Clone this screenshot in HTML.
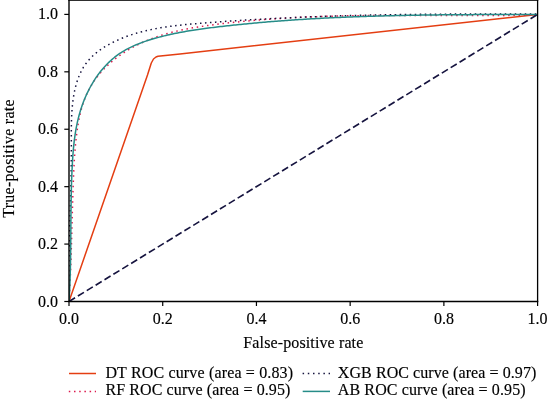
<!DOCTYPE html>
<html><head><meta charset="utf-8"><style>
html,body{margin:0;padding:0;background:#fff;}
body{width:547px;height:399px;overflow:hidden;}
svg{display:block;will-change:transform;font-family:"Liberation Serif", serif;font-size:16px;}
text{fill:#000;stroke:#000;stroke-width:0.15px;}
.xt text{text-anchor:middle;}
.yt text{text-anchor:end;}
</style></head><body>
<svg width="547" height="399" viewBox="0 0 547 399">
<rect width="547" height="399" fill="#fff"/>
<defs><clipPath id="c"><rect x="69.0" y="0" width="468.60" height="301.50"/></clipPath></defs>
<g clip-path="url(#c)" fill="none" stroke-linejoin="round">
<path d="M69.00,301.50 L147.50,75.00 L151.30,63.00 L153.50,59.00 L156.00,57.00 L158.00,56.30 L180.00,53.90 L537.60,14.50" stroke="#e43e12" stroke-width="1.5"/>
<path d="M69.00,301.50 L69.11,299.78 L69.21,298.07 L69.31,296.35 L69.41,294.63 L69.51,292.92 L69.60,291.20 L69.70,289.48 L69.79,287.77 L69.87,286.05 L69.96,284.34 L70.04,282.62 L70.12,280.90 L70.20,279.19 L70.28,277.47 L70.35,275.76 L70.42,274.04 L70.50,272.33 L70.56,270.61 L70.63,268.90 L70.70,267.18 L70.76,265.47 L70.83,263.75 L70.89,262.04 L70.95,260.33 L71.01,258.61 L71.07,256.90 L71.12,255.18 L71.18,253.47 L71.23,251.75 L71.29,250.04 L71.34,248.32 L71.39,246.61 L71.44,244.90 L71.49,243.18 L71.54,241.47 L71.59,239.75 L71.64,238.04 L71.69,236.33 L71.73,234.61 L71.78,232.90 L71.83,231.18 L71.87,229.47 L71.92,227.75 L71.97,226.04 L72.01,224.32 L72.06,222.61 L72.10,220.90 L72.15,219.18 L72.20,217.47 L72.24,215.75 L72.29,214.04 L72.34,212.32 L72.39,210.61 L72.44,208.89 L72.49,207.18 L72.53,205.46 L72.59,203.75 L72.64,202.03 L72.69,200.32 L72.74,198.60 L72.80,196.88 L72.85,195.17 L72.91,193.45 L72.96,191.74 L73.02,190.02 L73.08,188.30 L73.14,186.59 L73.20,184.87 L73.27,183.15 L73.33,181.44 L73.40,179.72 L73.47,178.00 L73.54,176.29 L73.61,174.57 L73.68,172.85 L73.76,171.13 L73.84,169.41 L73.92,167.70 L74.01,165.98 L74.10,164.26 L74.19,162.54 L74.29,160.83 L74.39,159.11 L74.50,157.40 L74.61,155.68 L74.73,153.97 L74.86,152.25 L74.99,150.54 L75.13,148.83 L75.28,147.11 L75.43,145.40 L75.59,143.69 L75.76,141.98 L75.94,140.27 L76.12,138.57 L76.32,136.86 L76.53,135.16 L76.74,133.45 L76.97,131.75 L77.20,130.05 L77.45,128.35 L77.71,126.65 L77.98,124.96 L78.26,123.27 L78.56,121.58 L78.87,119.90 L79.20,118.22 L79.55,116.54 L79.92,114.87 L80.30,113.21 L80.71,111.55 L81.14,109.91 L81.59,108.26 L82.06,106.63 L82.55,105.01 L83.08,103.39 L83.62,101.79 L84.20,100.19 L84.80,98.61 L85.43,97.04 L86.09,95.48 L86.78,93.93 L87.50,92.39 L88.25,90.87 L89.04,89.36 L89.85,87.87 L90.70,86.39 L91.57,84.93 L92.47,83.48 L93.40,82.05 L94.36,80.64 L95.35,79.24 L96.36,77.86 L97.40,76.50 L98.47,75.15 L99.56,73.83 L100.68,72.52 L101.82,71.24 L102.99,69.97 L104.18,68.72 L105.39,67.49 L106.62,66.28 L107.88,65.09 L109.15,63.92 L110.44,62.77 L111.75,61.64 L113.08,60.53 L114.43,59.43 L115.79,58.36 L117.16,57.31 L118.56,56.28 L119.96,55.27 L121.38,54.27 L122.81,53.30 L124.25,52.35 L125.71,51.42 L127.17,50.51 L128.64,49.63 L130.13,48.76 L131.62,47.91 L133.11,47.08 L134.62,46.28 L136.14,45.49 L137.66,44.72 L139.19,43.97 L140.73,43.24 L142.27,42.53 L143.83,41.84 L145.39,41.16 L146.95,40.50 L148.53,39.86 L150.11,39.24 L151.69,38.63 L153.28,38.04 L154.88,37.46 L156.49,36.90 L158.10,36.35 L159.71,35.82 L161.33,35.31 L162.96,34.80 L164.59,34.32 L166.23,33.84 L167.87,33.38 L169.52,32.93 L171.17,32.49 L172.82,32.07 L174.48,31.66 L176.15,31.26 L177.81,30.87 L179.49,30.49 L181.16,30.12 L182.84,29.77 L184.52,29.42 L186.20,29.08 L187.89,28.75 L189.58,28.43 L191.27,28.12 L192.97,27.82 L194.66,27.53 L196.36,27.24 L198.07,26.96 L199.77,26.69 L201.47,26.43 L203.18,26.17 L204.89,25.92 L206.60,25.67 L208.31,25.43 L210.02,25.19 L211.73,24.96 L213.44,24.74 L215.15,24.52 L216.86,24.30 L218.58,24.08 L220.29,23.87 L222.00,23.67 L223.71,23.46 L225.43,23.26 L227.14,23.06 L228.85,22.87 L230.56,22.68 L232.28,22.49 L233.99,22.31 L235.70,22.13 L237.41,21.95 L239.12,21.77 L240.84,21.60 L242.55,21.43 L244.26,21.27 L245.97,21.10 L247.69,20.94 L249.40,20.79 L251.11,20.63 L252.82,20.48 L254.53,20.33 L256.25,20.19 L257.96,20.05 L259.67,19.91 L261.38,19.77 L263.10,19.64 L264.81,19.50 L266.52,19.38 L268.23,19.25 L269.94,19.13 L271.66,19.01 L273.37,18.89 L275.08,18.77 L276.79,18.66 L278.50,18.55 L280.22,18.44 L281.93,18.33 L283.64,18.23 L285.35,18.13 L287.07,18.03 L288.78,17.94 L290.49,17.84 L292.20,17.75 L293.91,17.66 L295.63,17.57 L297.34,17.49 L299.05,17.41 L300.76,17.33 L302.48,17.25 L304.19,17.17 L305.90,17.10 L307.61,17.03 L309.32,16.96 L311.04,16.89 L312.75,16.82 L314.46,16.76 L316.17,16.70 L317.89,16.63 L319.60,16.58 L321.31,16.52 L323.02,16.46 L324.74,16.41 L326.45,16.36 L328.16,16.31 L329.87,16.26 L331.59,16.22 L333.30,16.17 L335.01,16.13 L336.73,16.09 L338.44,16.05 L340.15,16.01 L341.86,15.97 L343.58,15.94 L345.29,15.90 L347.00,15.87 L348.72,15.84 L350.43,15.81 L352.14,15.78 L353.86,15.76 L355.57,15.73 L357.28,15.71 L359.00,15.68 L360.71,15.66 L362.42,15.64 L364.14,15.62 L365.85,15.60 L367.56,15.59 L369.28,15.57 L370.99,15.55 L372.70,15.54 L374.42,15.53 L376.13,15.51 L377.85,15.50 L379.56,15.49 L381.27,15.48 L382.99,15.48 L384.70,15.47 L386.42,15.46 L388.13,15.45 L389.84,15.45 L391.56,15.44 L393.27,15.44 L394.99,15.44 L396.70,15.44 L398.42,15.43 L400.13,15.43 L401.85,15.43 L403.56,15.43 L405.28,15.43 L406.99,15.43 L408.71,15.43 L410.42,15.44 L412.14,15.44 L413.85,15.44 L415.57,15.44 L417.28,15.45 L419.00,15.45 L420.71,15.45 L422.43,15.46 L424.14,15.46 L425.86,15.47 L427.58,15.47 L429.29,15.48 L431.01,15.48 L432.72,15.49 L434.44,15.49 L436.16,15.50 L437.87,15.50 L439.59,15.51 L441.31,15.51 L443.02,15.52 L444.74,15.52 L446.46,15.53 L448.17,15.53 L449.89,15.54 L451.61,15.54 L453.32,15.54 L455.04,15.55 L456.76,15.55 L458.48,15.55 L460.19,15.56 L461.91,15.56 L463.63,15.56 L465.35,15.56 L467.07,15.57 L468.78,15.57 L470.50,15.57 L472.22,15.57 L473.94,15.56 L475.66,15.56 L477.38,15.56 L479.09,15.56 L480.81,15.56 L482.53,15.55 L484.25,15.55 L485.97,15.54 L487.69,15.54 L489.41,15.53 L491.13,15.52 L492.85,15.51 L494.57,15.50 L496.29,15.49 L498.01,15.48 L499.73,15.47 L501.45,15.45 L503.17,15.44 L504.89,15.42 L506.61,15.41 L508.33,15.39 L510.05,15.37 L511.77,15.35 L513.49,15.33 L515.21,15.31 L516.93,15.29 L518.66,15.26 L520.38,15.24 L522.10,15.21 L523.82,15.18 L525.54,15.15 L527.26,15.12 L528.99,15.09 L530.71,15.05 L532.43,15.02 L534.15,14.98 L535.88,14.94 L537.60,14.90" stroke="#dc1a4e" stroke-width="1.5" stroke-dasharray="1.5 3.7"/>
<path d="M69.00,301.50 L68.97,299.74 L68.94,297.98 L68.92,296.21 L68.89,294.45 L68.88,292.69 L68.86,290.92 L68.85,289.16 L68.84,287.40 L68.83,285.64 L68.83,283.87 L68.82,282.11 L68.83,280.35 L68.83,278.59 L68.84,276.82 L68.84,275.06 L68.85,273.30 L68.87,271.53 L68.88,269.77 L68.90,268.01 L68.92,266.25 L68.94,264.48 L68.96,262.72 L68.99,260.96 L69.02,259.20 L69.05,257.43 L69.08,255.67 L69.11,253.91 L69.14,252.15 L69.18,250.38 L69.21,248.62 L69.25,246.86 L69.29,245.10 L69.33,243.33 L69.37,241.57 L69.41,239.81 L69.46,238.05 L69.50,236.28 L69.55,234.52 L69.59,232.76 L69.64,231.00 L69.69,229.23 L69.73,227.47 L69.78,225.71 L69.83,223.95 L69.88,222.19 L69.93,220.42 L69.98,218.66 L70.03,216.90 L70.08,215.14 L70.13,213.38 L70.18,211.62 L70.23,209.85 L70.28,208.09 L70.33,206.33 L70.38,204.57 L70.42,202.81 L70.47,201.05 L70.52,199.29 L70.57,197.53 L70.61,195.77 L70.66,194.00 L70.70,192.24 L70.75,190.48 L70.79,188.72 L70.83,186.96 L70.87,185.20 L70.91,183.44 L70.95,181.68 L70.99,179.92 L71.02,178.16 L71.06,176.40 L71.09,174.64 L71.12,172.88 L71.15,171.12 L71.18,169.36 L71.21,167.60 L71.23,165.84 L71.25,164.09 L71.27,162.33 L71.29,160.57 L71.31,158.81 L71.32,157.05 L71.34,155.29 L71.35,153.53 L71.35,151.78 L71.36,150.02 L71.36,148.26 L71.36,146.50 L71.36,144.74 L71.35,142.99 L71.35,141.23 L71.34,139.47 L71.33,137.71 L71.33,135.96 L71.32,134.20 L71.32,132.44 L71.33,130.68 L71.33,128.92 L71.35,127.16 L71.37,125.40 L71.40,123.64 L71.44,121.88 L71.49,120.12 L71.55,118.35 L71.62,116.59 L71.71,114.82 L71.81,113.05 L71.92,111.29 L72.05,109.52 L72.19,107.74 L72.36,105.97 L72.54,104.20 L72.74,102.42 L72.96,100.64 L73.21,98.87 L73.47,97.09 L73.76,95.32 L74.08,93.55 L74.42,91.79 L74.79,90.04 L75.19,88.30 L75.62,86.57 L76.08,84.85 L76.57,83.14 L77.09,81.45 L77.65,79.78 L78.24,78.13 L78.87,76.50 L79.54,74.88 L80.25,73.30 L80.99,71.73 L81.78,70.20 L82.61,68.69 L83.48,67.21 L84.40,65.76 L85.36,64.35 L86.37,62.97 L87.43,61.62 L88.53,60.31 L89.67,59.02 L90.85,57.78 L92.08,56.56 L93.33,55.38 L94.63,54.22 L95.96,53.10 L97.32,52.01 L98.71,50.95 L100.12,49.91 L101.57,48.91 L103.04,47.93 L104.53,46.98 L106.05,46.06 L107.58,45.17 L109.13,44.30 L110.70,43.45 L112.28,42.64 L113.88,41.84 L115.48,41.07 L117.10,40.33 L118.72,39.60 L120.35,38.90 L121.99,38.23 L123.63,37.57 L125.27,36.93 L126.92,36.32 L128.58,35.73 L130.24,35.15 L131.91,34.60 L133.58,34.06 L135.26,33.54 L136.94,33.05 L138.63,32.56 L140.32,32.10 L142.02,31.65 L143.71,31.22 L145.42,30.81 L147.13,30.41 L148.84,30.02 L150.55,29.65 L152.27,29.30 L153.99,28.96 L155.72,28.63 L157.44,28.31 L159.17,28.01 L160.91,27.71 L162.65,27.43 L164.38,27.16 L166.13,26.90 L167.87,26.65 L169.62,26.41 L171.36,26.18 L173.12,25.96 L174.87,25.75 L176.62,25.54 L178.38,25.34 L180.13,25.15 L181.89,24.97 L183.65,24.79 L185.41,24.62 L187.17,24.45 L188.93,24.28 L190.70,24.12 L192.46,23.97 L194.22,23.82 L195.99,23.67 L197.75,23.52 L199.51,23.37 L201.28,23.23 L203.04,23.09 L204.80,22.95 L206.57,22.81 L208.33,22.67 L210.09,22.53 L211.86,22.40 L213.62,22.26 L215.38,22.13 L217.14,22.00 L218.91,21.87 L220.67,21.74 L222.43,21.62 L224.19,21.49 L225.95,21.37 L227.71,21.25 L229.48,21.12 L231.24,21.00 L233.00,20.89 L234.76,20.77 L236.52,20.65 L238.28,20.54 L240.04,20.42 L241.80,20.31 L243.56,20.20 L245.32,20.09 L247.08,19.98 L248.84,19.88 L250.60,19.77 L252.36,19.66 L254.12,19.56 L255.88,19.46 L257.64,19.36 L259.40,19.26 L261.16,19.16 L262.92,19.06 L264.68,18.97 L266.44,18.87 L268.20,18.78 L269.96,18.69 L271.72,18.59 L273.47,18.50 L275.23,18.41 L276.99,18.33 L278.75,18.24 L280.51,18.15 L282.27,18.07 L284.03,17.99 L285.78,17.90 L287.54,17.82 L289.30,17.74 L291.06,17.66 L292.82,17.59 L294.57,17.51 L296.33,17.43 L298.09,17.36 L299.85,17.28 L301.61,17.21 L303.36,17.14 L305.12,17.07 L306.88,17.00 L308.64,16.93 L310.39,16.86 L312.15,16.80 L313.91,16.73 L315.67,16.67 L317.43,16.60 L319.18,16.54 L320.94,16.48 L322.70,16.42 L324.46,16.36 L326.21,16.30 L327.97,16.24 L329.73,16.19 L331.48,16.13 L333.24,16.08 L335.00,16.02 L336.76,15.97 L338.51,15.92 L340.27,15.86 L342.03,15.81 L343.79,15.76 L345.54,15.72 L347.30,15.67 L349.06,15.62 L350.82,15.57 L352.57,15.53 L354.33,15.48 L356.09,15.44 L357.85,15.40 L359.60,15.35 L361.36,15.31 L363.12,15.27 L364.88,15.23 L366.63,15.19 L368.39,15.16 L370.15,15.12 L371.91,15.08 L373.67,15.05 L375.42,15.01 L377.18,14.98 L378.94,14.94 L380.70,14.91 L382.45,14.88 L384.21,14.85 L385.97,14.81 L387.73,14.78 L389.49,14.76 L391.25,14.73 L393.00,14.70 L394.76,14.67 L396.52,14.64 L398.28,14.62 L400.04,14.59 L401.80,14.57 L403.56,14.54 L405.31,14.52 L407.07,14.50 L408.83,14.47 L410.59,14.45 L412.35,14.43 L414.11,14.41 L415.87,14.39 L417.63,14.37 L419.39,14.35 L421.15,14.33 L422.91,14.32 L424.67,14.30 L426.43,14.28 L428.19,14.27 L429.95,14.25 L431.71,14.23 L433.47,14.22 L435.23,14.21 L436.99,14.19 L438.75,14.18 L440.51,14.17 L442.27,14.15 L444.03,14.14 L445.79,14.13 L447.56,14.12 L449.32,14.11 L451.08,14.10 L452.84,14.09 L454.60,14.08 L456.36,14.07 L458.13,14.06 L459.89,14.06 L461.65,14.05 L463.41,14.04 L465.18,14.04 L466.94,14.03 L468.70,14.02 L470.47,14.02 L472.23,14.01 L473.99,14.01 L475.76,14.00 L477.52,14.00 L479.28,13.99 L481.05,13.99 L482.81,13.99 L484.58,13.99 L486.34,13.98 L488.11,13.98 L489.87,13.98 L491.64,13.98 L493.40,13.97 L495.17,13.97 L496.93,13.97 L498.70,13.97 L500.47,13.97 L502.23,13.97 L504.00,13.97 L505.76,13.97 L507.53,13.97 L509.30,13.97 L511.07,13.97 L512.83,13.97 L514.60,13.97 L516.37,13.97 L518.14,13.98 L519.91,13.98 L521.67,13.98 L523.44,13.98 L525.21,13.98 L526.98,13.99 L528.75,13.99 L530.52,13.99 L532.29,13.99 L534.06,13.99 L535.83,14.00 L537.60,14.00" stroke="#16143f" stroke-width="1.5" stroke-dasharray="1.5 3.5"/>
<path d="M69.00,301.50 L69.11,299.77 L69.21,298.04 L69.31,296.31 L69.41,294.58 L69.50,292.86 L69.58,291.13 L69.66,289.41 L69.74,287.68 L69.82,285.96 L69.89,284.24 L69.95,282.51 L70.02,280.79 L70.08,279.07 L70.13,277.35 L70.19,275.63 L70.24,273.92 L70.28,272.20 L70.33,270.48 L70.37,268.77 L70.41,267.05 L70.45,265.33 L70.48,263.62 L70.51,261.90 L70.54,260.19 L70.57,258.48 L70.60,256.76 L70.62,255.05 L70.64,253.34 L70.66,251.63 L70.68,249.92 L70.70,248.21 L70.72,246.49 L70.74,244.78 L70.75,243.07 L70.76,241.36 L70.78,239.65 L70.79,237.94 L70.80,236.24 L70.81,234.53 L70.83,232.82 L70.84,231.11 L70.85,229.40 L70.86,227.69 L70.87,225.98 L70.88,224.27 L70.89,222.56 L70.91,220.86 L70.92,219.15 L70.93,217.44 L70.95,215.73 L70.96,214.02 L70.98,212.31 L71.00,210.60 L71.01,208.89 L71.04,207.18 L71.06,205.47 L71.08,203.76 L71.11,202.05 L71.13,200.34 L71.16,198.63 L71.19,196.92 L71.23,195.21 L71.26,193.49 L71.30,191.78 L71.34,190.07 L71.38,188.35 L71.43,186.64 L71.48,184.93 L71.53,183.21 L71.58,181.50 L71.64,179.78 L71.70,178.06 L71.77,176.35 L71.84,174.63 L71.91,172.91 L71.98,171.19 L72.06,169.47 L72.15,167.75 L72.23,166.03 L72.33,164.31 L72.42,162.58 L72.52,160.86 L72.63,159.14 L72.74,157.41 L72.86,155.69 L72.99,153.97 L73.13,152.24 L73.27,150.52 L73.42,148.80 L73.58,147.08 L73.76,145.36 L73.94,143.64 L74.13,141.92 L74.34,140.21 L74.56,138.49 L74.79,136.78 L75.03,135.07 L75.29,133.36 L75.57,131.66 L75.85,129.95 L76.16,128.25 L76.48,126.56 L76.82,124.86 L77.17,123.17 L77.54,121.48 L77.94,119.80 L78.35,118.12 L78.78,116.45 L79.23,114.77 L79.70,113.11 L80.19,111.45 L80.70,109.79 L81.23,108.14 L81.79,106.50 L82.36,104.86 L82.96,103.23 L83.57,101.61 L84.21,100.00 L84.87,98.40 L85.54,96.81 L86.24,95.23 L86.96,93.66 L87.70,92.10 L88.46,90.56 L89.25,89.03 L90.05,87.51 L90.88,86.00 L91.72,84.51 L92.59,83.03 L93.47,81.57 L94.38,80.13 L95.31,78.70 L96.26,77.29 L97.24,75.89 L98.23,74.52 L99.24,73.16 L100.28,71.82 L101.34,70.50 L102.42,69.21 L103.51,67.93 L104.64,66.67 L105.78,65.44 L106.94,64.23 L108.13,63.04 L109.34,61.88 L110.56,60.74 L111.81,59.62 L113.08,58.53 L114.38,57.46 L115.69,56.43 L117.03,55.41 L118.39,54.43 L119.77,53.47 L121.17,52.55 L122.59,51.65 L124.04,50.78 L125.50,49.93 L126.98,49.11 L128.48,48.32 L130.00,47.56 L131.53,46.81 L133.08,46.10 L134.65,45.40 L136.23,44.73 L137.82,44.07 L139.42,43.44 L141.03,42.83 L142.65,42.23 L144.28,41.66 L145.92,41.10 L147.57,40.55 L149.22,40.03 L150.88,39.51 L152.54,39.02 L154.20,38.53 L155.87,38.06 L157.54,37.60 L159.22,37.15 L160.89,36.71 L162.57,36.28 L164.24,35.87 L165.92,35.46 L167.61,35.07 L169.29,34.69 L170.97,34.31 L172.66,33.95 L174.35,33.59 L176.04,33.25 L177.73,32.91 L179.42,32.58 L181.12,32.26 L182.81,31.95 L184.51,31.64 L186.21,31.35 L187.91,31.06 L189.61,30.78 L191.31,30.50 L193.01,30.23 L194.72,29.97 L196.42,29.71 L198.13,29.46 L199.83,29.22 L201.54,28.98 L203.24,28.74 L204.95,28.51 L206.66,28.29 L208.37,28.07 L210.08,27.85 L211.79,27.63 L213.50,27.42 L215.21,27.22 L216.92,27.01 L218.63,26.81 L220.34,26.61 L222.05,26.41 L223.76,26.22 L225.47,26.03 L227.18,25.84 L228.89,25.65 L230.60,25.46 L232.31,25.28 L234.02,25.10 L235.73,24.92 L237.44,24.74 L239.15,24.56 L240.86,24.39 L242.57,24.22 L244.28,24.05 L245.99,23.88 L247.71,23.71 L249.42,23.55 L251.13,23.39 L252.84,23.23 L254.55,23.07 L256.26,22.91 L257.97,22.76 L259.68,22.61 L261.39,22.46 L263.10,22.31 L264.81,22.16 L266.52,22.02 L268.24,21.87 L269.95,21.73 L271.66,21.59 L273.37,21.46 L275.08,21.32 L276.79,21.19 L278.50,21.05 L280.21,20.92 L281.93,20.80 L283.64,20.67 L285.35,20.54 L287.06,20.42 L288.77,20.30 L290.48,20.18 L292.20,20.06 L293.91,19.94 L295.62,19.83 L297.33,19.72 L299.04,19.61 L300.75,19.50 L302.47,19.39 L304.18,19.28 L305.89,19.17 L307.60,19.07 L309.31,18.97 L311.03,18.87 L312.74,18.77 L314.45,18.67 L316.16,18.58 L317.88,18.48 L319.59,18.39 L321.30,18.30 L323.01,18.21 L324.73,18.12 L326.44,18.03 L328.15,17.95 L329.86,17.86 L331.58,17.78 L333.29,17.70 L335.00,17.62 L336.71,17.54 L338.43,17.46 L340.14,17.39 L341.85,17.31 L343.57,17.24 L345.28,17.17 L346.99,17.10 L348.71,17.03 L350.42,16.96 L352.13,16.89 L353.85,16.83 L355.56,16.76 L357.27,16.70 L358.99,16.64 L360.70,16.58 L362.41,16.52 L364.13,16.46 L365.84,16.40 L367.56,16.35 L369.27,16.29 L370.98,16.24 L372.70,16.18 L374.41,16.13 L376.13,16.08 L377.84,16.03 L379.55,15.98 L381.27,15.94 L382.98,15.89 L384.70,15.85 L386.41,15.80 L388.13,15.76 L389.84,15.72 L391.56,15.68 L393.27,15.63 L394.99,15.60 L396.70,15.56 L398.42,15.52 L400.13,15.48 L401.85,15.45 L403.56,15.41 L405.28,15.38 L406.99,15.35 L408.71,15.32 L410.42,15.28 L412.14,15.25 L413.85,15.22 L415.57,15.20 L417.29,15.17 L419.00,15.14 L420.72,15.11 L422.43,15.09 L424.15,15.06 L425.87,15.04 L427.58,15.02 L429.30,14.99 L431.02,14.97 L432.73,14.95 L434.45,14.93 L436.17,14.91 L437.88,14.89 L439.60,14.87 L441.32,14.86 L443.03,14.84 L444.75,14.82 L446.47,14.81 L448.18,14.79 L449.90,14.78 L451.62,14.76 L453.34,14.75 L455.05,14.73 L456.77,14.72 L458.49,14.71 L460.21,14.70 L461.92,14.69 L463.64,14.68 L465.36,14.67 L467.08,14.66 L468.80,14.65 L470.52,14.64 L472.23,14.63 L473.95,14.62 L475.67,14.61 L477.39,14.61 L479.11,14.60 L480.83,14.59 L482.55,14.59 L484.26,14.58 L485.98,14.58 L487.70,14.57 L489.42,14.57 L491.14,14.56 L492.86,14.56 L494.58,14.55 L496.30,14.55 L498.02,14.55 L499.74,14.54 L501.46,14.54 L503.18,14.54 L504.90,14.53 L506.62,14.53 L508.34,14.53 L510.06,14.53 L511.78,14.52 L513.50,14.52 L515.22,14.52 L516.94,14.52 L518.66,14.52 L520.39,14.52 L522.11,14.51 L523.83,14.51 L525.55,14.51 L527.27,14.51 L528.99,14.51 L530.71,14.51 L532.43,14.51 L534.16,14.50 L535.88,14.50 L537.60,14.50" stroke="#268c88" stroke-width="1.5"/>
<path d="M69.0,301.5 L537.6,14.4" stroke="#16143f" stroke-width="1.65" stroke-dasharray="7.1 3.31"/>
</g>
<g fill="none" stroke="#000">
<line x1="69.0" y1="0" x2="69.0" y2="302.1" stroke-width="1.4"/>
<line x1="537.6" y1="0" x2="537.6" y2="302.1" stroke-width="1.3"/>
<line x1="68.3" y1="301.5" x2="538.2" y2="301.5" stroke-width="1.3"/>

</g>
<rect x="68.3" y="0" width="469.95" height="0.82" fill="#000"/>
<g class="xt"><line x1="69.00" y1="301.5" x2="69.00" y2="306" stroke="#000" stroke-width="1.2"/><text x="69.00" y="324">0.0</text><line x1="162.72" y1="301.5" x2="162.72" y2="306" stroke="#000" stroke-width="1.2"/><text x="162.72" y="324">0.2</text><line x1="256.44" y1="301.5" x2="256.44" y2="306" stroke="#000" stroke-width="1.2"/><text x="256.44" y="324">0.4</text><line x1="350.16" y1="301.5" x2="350.16" y2="306" stroke="#000" stroke-width="1.2"/><text x="350.16" y="324">0.6</text><line x1="443.88" y1="301.5" x2="443.88" y2="306" stroke="#000" stroke-width="1.2"/><text x="443.88" y="324">0.8</text><line x1="537.60" y1="301.5" x2="537.60" y2="306" stroke="#000" stroke-width="1.2"/><text x="537.60" y="324">1.0</text></g>
<g class="yt"><line x1="64.3" y1="301.50" x2="69" y2="301.50" stroke="#000" stroke-width="1.2"/><text x="58" y="306.50">0.0</text><line x1="64.3" y1="244.08" x2="69" y2="244.08" stroke="#000" stroke-width="1.2"/><text x="58" y="249.08">0.2</text><line x1="64.3" y1="186.66" x2="69" y2="186.66" stroke="#000" stroke-width="1.2"/><text x="58" y="191.66">0.4</text><line x1="64.3" y1="129.24" x2="69" y2="129.24" stroke="#000" stroke-width="1.2"/><text x="58" y="134.24">0.6</text><line x1="64.3" y1="71.82" x2="69" y2="71.82" stroke="#000" stroke-width="1.2"/><text x="58" y="76.82">0.8</text><line x1="64.3" y1="14.40" x2="69" y2="14.40" stroke="#000" stroke-width="1.2"/><text x="58" y="19.40">1.0</text></g>
<text x="243.3" y="348.3" textLength="120" lengthAdjust="spacing">False-positive rate</text>
<text transform="translate(14.3,217.8) rotate(-90)" textLength="118.5" lengthAdjust="spacing">True-positive rate</text>
<g fill="none">
<line x1="69" y1="373.5" x2="96" y2="373.5" stroke="#e43e12" stroke-width="1.5"/>
<line x1="68.8" y1="391.4" x2="96" y2="391.4" stroke="#dc1a4e" stroke-width="1.5" stroke-dasharray="1.5 3.7"/>
<line x1="302.6" y1="373.6" x2="330" y2="373.6" stroke="#16143f" stroke-width="1.5" stroke-dasharray="1.5 3.7"/>
<line x1="302.7" y1="391.4" x2="330" y2="391.4" stroke="#268c88" stroke-width="1.5"/>
</g>
<g class="leg">
<text x="105.4" y="378.3" textLength="187.7" lengthAdjust="spacing">DT ROC curve (area = 0.83)</text>
<text x="105.4" y="395.2" textLength="185" lengthAdjust="spacing">RF ROC curve (area = 0.95)</text>
<text x="337.8" y="378.3" textLength="198.5" lengthAdjust="spacing">XGB ROC curve (area = 0.97)</text>
<text x="337.8" y="395.2" textLength="187.8" lengthAdjust="spacing">AB ROC curve (area = 0.95)</text>
</g>
</svg>
</body></html>
